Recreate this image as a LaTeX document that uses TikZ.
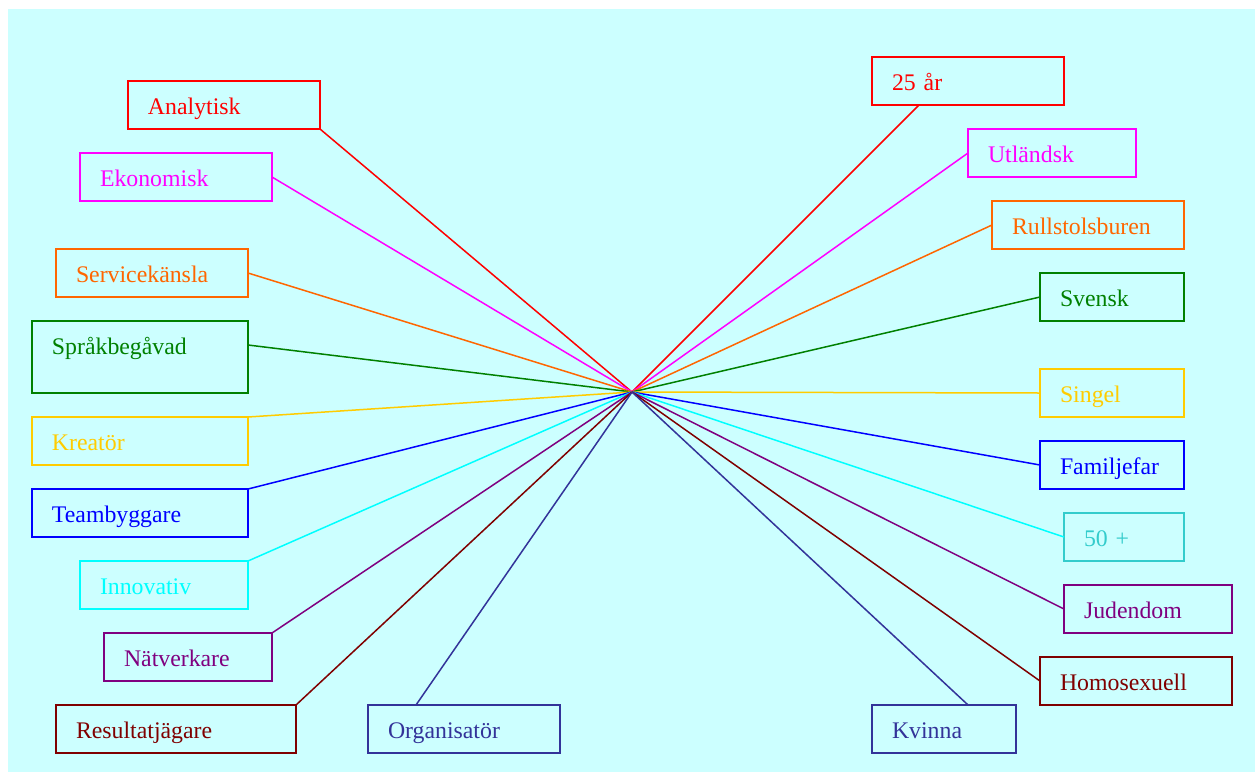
\documentclass[tikz,border=0pt]{standalone}
\usepackage{fontspec}
\setmainfont{Liberation Serif}
\usetikzlibrary{calc}
\definecolor{bgc}{HTML}{CCFFFF}
\definecolor{cred}{HTML}{FF0000}
\definecolor{cmag}{HTML}{FF00FF}
\definecolor{cora}{HTML}{FF6600}
\definecolor{cgre}{HTML}{008000}
\definecolor{cgol}{HTML}{FFCC00}
\definecolor{cblu}{HTML}{0000FF}
\definecolor{ccya}{HTML}{00FFFF}
\definecolor{cteal}{HTML}{33CCCC}
\definecolor{cpur}{HTML}{800080}
\definecolor{cmar}{HTML}{800000}
\definecolor{cnav}{HTML}{333399}
\begin{document}
\begin{tikzpicture}[x=0.5pt,y=-0.5pt,
  lbl/.style={draw=#1, text=#1, line width=1pt, anchor=north west,
    inner xsep=10pt, inner ysep=0pt, outer sep=0pt,
    text height=16.9pt, text depth=7.1pt, align=left,
    font=\fontsize{11.9}{14}\selectfont},
  conn/.style={draw=#1, line width=0.75pt}]
\useasboundingbox (0,0) rectangle (1255,772);
\fill[bgc] (8,9) rectangle (1255,772);
\coordinate (c) at (632,392);
% left boxes
\node[lbl=cred, text width=76pt] (ana) at (128,81) {Analytisk};
\node[lbl=cmag, text width=76pt] (eko) at (80,153) {Ekonomisk};
\node[lbl=cora, text width=76pt] (ser) at (56,249) {Servicekänsla};
\node[lbl=cgre, text width=88pt, text depth=19.1pt] (spr) at (32,321) {Språkbegåvad};
\node[lbl=cgol, text width=88pt] (kre) at (32,417) {Kreatör};
\node[lbl=cblu, text width=88pt] (tea) at (32,489) {Teambyggare};
\node[lbl=ccya, text width=64pt] (inn) at (80,561) {Innovativ};
\node[lbl=cpur, text width=64pt] (nat) at (104,633) {Nätverkare};
\node[lbl=cmar, text width=100pt] (res) at (56,705) {Resultatjägare};
\node[lbl=cnav, text width=76pt] (org) at (368,705) {Organisatör};
% right boxes
\node[lbl=cred, text width=76pt] (ar) at (872,57) {25 år};
\node[lbl=cmag, text width=64pt] (utl) at (968,129) {Utländsk};
\node[lbl=cora, text width=76pt] (rul) at (992,201) {Rullstolsburen};
\node[lbl=cgre, text width=52pt] (sve) at (1040,273) {Svensk};
\node[lbl=cgol, text width=52pt] (sin) at (1040,369) {Singel};
\node[lbl=cblu, text width=52pt] (fam) at (1040,441) {Familjefar};
\node[lbl=cteal, text width=40pt] (fif) at (1064,513) {50 +};
\node[lbl=cpur, text width=64pt] (jud) at (1064,585) {Judendom};
\node[lbl=cmar, text width=76pt] (hom) at (1040,657) {Homosexuell};
\node[lbl=cnav, text width=52pt] (kvi) at (872,705) {Kvinna};
% connectors
\draw[conn=cred] (ana.south east) -- (c);
\draw[conn=cmag] (eko.east) -- (c);
\draw[conn=cora] (ser.east) -- (c);
\draw[conn=cgre] ([yshift=6pt]spr.east) -- (c);
\draw[conn=cgol] (kre.north east) -- (c);
\draw[conn=cblu] (tea.north east) -- (c);
\draw[conn=ccya] (inn.north east) -- (c);
\draw[conn=cpur] (nat.north east) -- (c);
\draw[conn=cmar] (res.north east) -- (c);
\draw[conn=cnav] ($(org.north west)!0.25!(org.north east)$) -- (c);
\draw[conn=cred] ($(ar.south west)!0.245!(ar.south east)$) -- (c);
\draw[conn=cmag] (utl.west) -- (c);
\draw[conn=cora] (rul.west) -- (c);
\draw[conn=cgre] (sve.west) -- (c);
\draw[conn=cgol] (sin.west) -- (c);
\draw[conn=cblu] (fam.west) -- (c);
\draw[conn=ccya] (fif.west) -- (c);
\draw[conn=cpur] (jud.west) -- (c);
\draw[conn=cmar] (hom.west) -- (c);
\draw[conn=cnav] ($(kvi.north west)!0.667!(kvi.north east)$) -- (c);
\end{tikzpicture}
\end{document}
